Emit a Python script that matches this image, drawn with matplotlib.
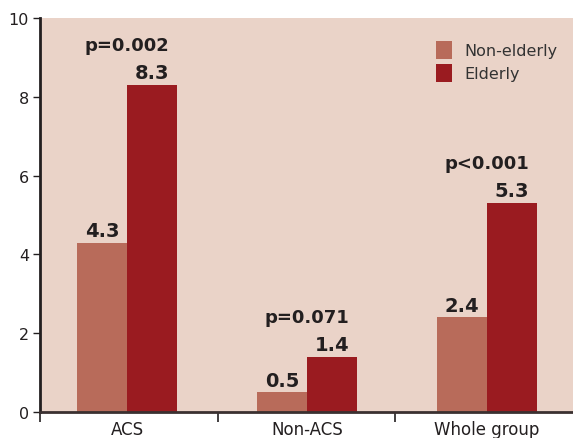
import numpy as np
import matplotlib.pyplot as plt

# data
categories = ['ACS', 'Non-ACS', 'Whole group']
non_elderly = [4.3, 0.5, 2.4]
elderly = [8.3, 1.4, 5.3]
p_values = ['p=0.002', 'p=0.071', 'p<0.001']

bg = '#EAD3C8'
c_non = '#B86B5A'
c_eld = '#9A1B20'
txt = '#231F20'

fig = plt.figure(figsize=(5.73, 4.39), dpi=100)
ax = fig.add_axes([0.07, 0.059, 0.93, 0.898])
ax.set_facecolor(bg)

x = np.arange(len(categories))
w = 0.278
ax.bar(x - w / 2, non_elderly, w, color=c_non, label='Non-elderly')
ax.bar(x + w / 2, elderly, w, color=c_eld, label='Elderly')

for i in range(len(categories)):
    ax.text(x[i] - w / 2, non_elderly[i] + 0.17, f'{non_elderly[i]:.1f}', ha='center', va='baseline',
            fontsize=14, fontweight='bold', color=txt)
    ax.text(x[i] + w / 2, elderly[i] + 0.17, f'{elderly[i]:.1f}', ha='center', va='baseline',
            fontsize=14, fontweight='bold', color=txt)
    ax.text(x[i], elderly[i] + 0.88, p_values[i], ha='center', va='baseline',
            fontsize=13, fontweight='bold', color=txt)

ax.set_xlim(-0.483, 2.478)
ax.set_ylim(0, 10)
ax.set_yticks([0, 2, 4, 6, 8, 10])
ax.set_xticks(x)
ax.set_xticklabels(categories, fontsize=12, color=txt)
ax.tick_params(axis='x', which='major', length=0, pad=6)
ax.set_xticks([-0.483, 0.506, 1.49], minor=True)
ax.tick_params(axis='x', which='minor', length=7, width=1.2, color=txt)
ax.tick_params(axis='y', length=5, width=1, color=txt, labelsize=11.5, labelcolor=txt, pad=3)

for s in ['top', 'right']:
    ax.spines[s].set_visible(False)
ax.spines['left'].set_linewidth(2)
ax.spines['left'].set_color(txt)
ax.spines['bottom'].set_linewidth(2)
ax.spines['bottom'].set_color('#3a3030')

leg = ax.legend(loc='upper right', bbox_to_anchor=(0.997, 0.977), frameon=False, fontsize=11.5,
                handlelength=1.0, handleheight=1.3, handletextpad=0.75, labelspacing=0.35)
for t in leg.get_texts():
    t.set_color('#333333')

fig.savefig('out.png', dpi=100)
